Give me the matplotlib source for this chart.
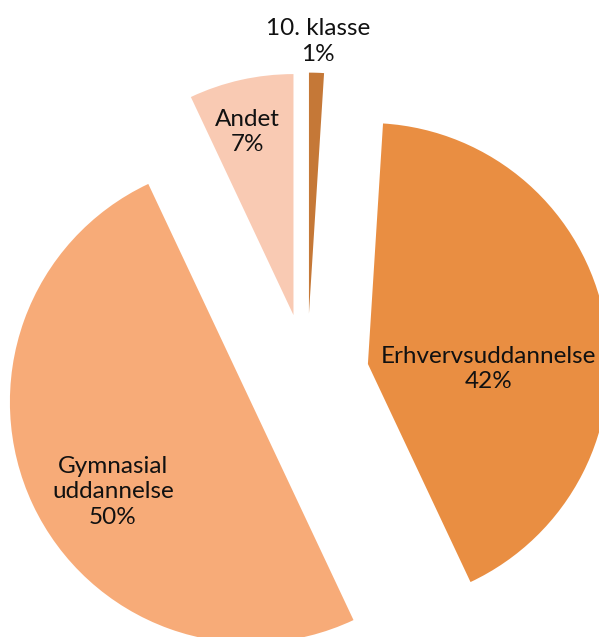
import matplotlib.pyplot as plt
import numpy as np

labels = ['10. klasse', 'Erhvervsuddannelse', 'Gymnasial\nuddannelse', 'Andet']
values = [1, 42, 50, 7]
colors = ['#C57837', '#E98E42', '#F7AB78', '#F9CAB3']

# label placement relative to each wedge's own vertex: (angle in degrees, distance as fraction of radius)
label_pos = [(88.1, 1.13), (-2.4, 0.50), (213.1, 0.683), (104.1, 0.783)]

plt.rcParams['font.family'] = ['Lato', 'DejaVu Sans']

fig = plt.figure(figsize=(5.99, 6.37), dpi=100)
ax = fig.add_axes([0, 0, 1, 1])

radius = 241
wedges, _ = ax.pie(values, colors=colors, startangle=90, counterclock=False,
                   radius=radius, center=(307, 261.4), explode=[62] * 4,
                   wedgeprops=dict(linewidth=0), frame=False)

for w, lab, v, (ang, d) in zip(wedges, labels, values, label_pos):
    cx, cy = w.center
    a = np.deg2rad(ang)
    ax.text(cx + d * w.r * np.cos(a), cy + d * w.r * np.sin(a), '%s\n%d%%' % (lab, v),
            ha='center', va='center', fontsize=17.5, color='#111111', linespacing=1.25)

ax.set_xlim(0, 599)
ax.set_ylim(0, 637)
ax.set_aspect('equal')
ax.axis('off')

fig.savefig('out.png', dpi=100)
